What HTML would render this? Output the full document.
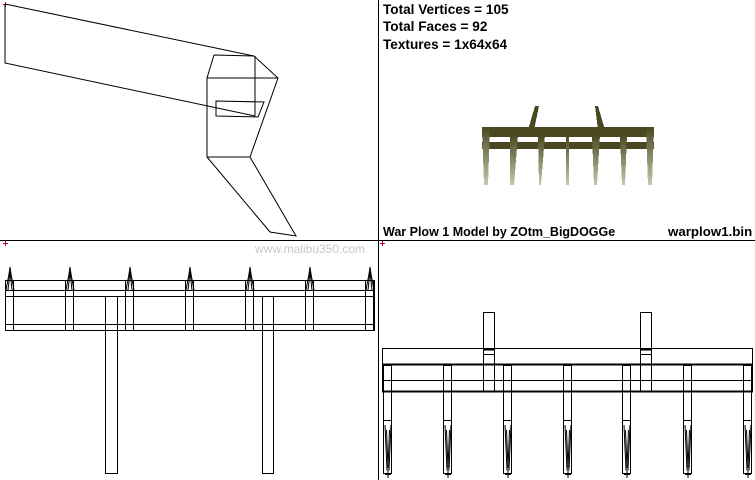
<!DOCTYPE html>
<html><head><meta charset="utf-8"><style>
html,body{margin:0;padding:0;background:#fff;}
svg{display:block}
text{font-family:"Liberation Sans",sans-serif;font-weight:bold;font-size:12.5px;fill:#000}
</style></head><body>
<svg width="755" height="480" viewBox="0 0 755 480" xmlns="http://www.w3.org/2000/svg" shape-rendering="crispEdges">
<defs>
<g id="tf" fill="none" stroke="#000" stroke-width="1">
<rect x="-4.5" y="280.5" width="8" height="50"/>
<line x1="-4" y1="290.5" x2="4" y2="290.5"/>
<line x1="-4" y1="296.5" x2="4" y2="296.5"/>
<polyline points="-4,290 -1,274 0,267 1,274 4,290" shape-rendering="auto"/>
<polyline points="-2,290 0,272 2,290" shape-rendering="auto"/>
</g>
<g id="tb" fill="none" stroke="#000" stroke-width="1">
<rect x="-4.5" y="365.5" width="8" height="108"/>
<line x1="-4" y1="420.5" x2="4" y2="420.5"/>
<polyline points="-3,425 -1,470 1,470 3,425" shape-rendering="auto"/>
<polyline points="-1.5,430 0,468 1.5,430" shape-rendering="auto"/>
<line x1="-3" y1="474.5" x2="3" y2="474.5"/>
<line x1="0" y1="471" x2="0" y2="478"/>
</g>
</defs>
<line x1="378.5" y1="0" x2="378.5" y2="480" stroke="#000"/>
<line x1="0" y1="240.5" x2="755" y2="240.5" stroke="#000"/>
<g stroke="#c00020"><line x1="3" y1="4.5" x2="8" y2="4.5"/><line x1="5.5" y1="2" x2="5.5" y2="7"/>
<line x1="3" y1="243.5" x2="8" y2="243.5"/><line x1="5.5" y1="241" x2="5.5" y2="246"/>
<line x1="380" y1="243.5" x2="385" y2="243.5"/><line x1="382.5" y1="241" x2="382.5" y2="246"/></g>
<g fill="none" stroke="#000" shape-rendering="auto">
<polyline points="5,4 5,63 255,116"/>
<line x1="5" y1="4" x2="254" y2="56"/>
<polyline points="214,55 254,56 278,78 250,157 207,157 207,78 214,55"/>
<line x1="207" y1="78" x2="278" y2="78"/>
<line x1="255" y1="56" x2="255" y2="116"/>
<polygon points="216,101 264,102 258,117 216,116"/>
<polyline points="207,157 270,232 296,236 250,157"/>
</g>
<text x="383" y="14" style="font-size:13.6px">Total Vertices = 105</text>
<text x="383" y="31" style="font-size:13.6px">Total Faces = 92</text>
<text x="383" y="49" style="font-size:13.6px">Textures = 1x64x64</text>
<text x="383" y="236">War Plow 1 Model by ZOtm_BigDOGGe</text>
<text x="668" y="236" style="font-size:13.3px">warplow1.bin</text>
<text x="255" y="253" style="font-weight:normal;font-size:12px;fill:#c8c8c8">www.malibu350.com</text>
<defs><linearGradient id="g1" x1="0" y1="0" x2="0" y2="1"><stop offset="0" stop-color="#4a4820"/><stop offset="1" stop-color="#c8c8b0"/></linearGradient></defs>
<g fill="#4a4820">
<polygon points="535,106 539,106 534,130 528,130"/>
<polygon points="595,106 598,106 605,130 598,130"/>
<rect x="482" y="127" width="172" height="10"/>
<rect x="482" y="142" width="172" height="7"/>
</g>
<g fill="url(#g1)">
<polygon points="482,127 490,127 488,185 484,185"/>
<polygon points="510,135 518,135 514,185 510,185"/>
<polygon points="538,135 545,135 541,185 539,185"/>
<rect x="566" y="135" width="3" height="50"/>
<polygon points="592,135 600,135 597,185 594,185"/>
<polygon points="620,135 627,135 625,185 622,185"/>
<polygon points="646,127 654,127 652,185 648,185"/>
</g>
<g fill="none" stroke="#000">
<rect x="5.5" y="280.5" width="369" height="50"/>
<line x1="5" y1="290.5" x2="375" y2="290.5"/>
<line x1="5" y1="296.5" x2="375" y2="296.5"/>
<line x1="5" y1="324.5" x2="375" y2="324.5"/>
<rect x="105.5" y="296.5" width="12" height="177"/>
<rect x="262.5" y="296.5" width="11" height="177"/>
</g>
<use href="#tf" x="10"/><use href="#tf" x="70"/><use href="#tf" x="130"/><use href="#tf" x="190"/><use href="#tf" x="250"/><use href="#tf" x="310"/><use href="#tf" x="370"/>
<g fill="none" stroke="#000">
<rect x="382.5" y="348.5" width="370" height="43"/>
<line x1="382" y1="364.5" x2="753" y2="364.5" stroke-width="2"/>
<line x1="382" y1="380.5" x2="753" y2="380.5"/>
<line x1="382" y1="391.5" x2="753" y2="391.5" stroke-width="2"/>
<rect x="483.5" y="312.5" width="11" height="79"/>
<rect x="640.5" y="312.5" width="11" height="79"/>
<line x1="483" y1="349.5" x2="495" y2="349.5" stroke-width="2"/>
<line x1="483" y1="354.5" x2="495" y2="354.5"/>
<line x1="640" y1="349.5" x2="652" y2="349.5" stroke-width="2"/>
<line x1="640" y1="354.5" x2="652" y2="354.5"/>
</g>
<use href="#tb" x="388"/><use href="#tb" x="448"/><use href="#tb" x="508"/><use href="#tb" x="568"/><use href="#tb" x="627"/><use href="#tb" x="688"/><use href="#tb" x="748"/>
</svg>
</body></html>
